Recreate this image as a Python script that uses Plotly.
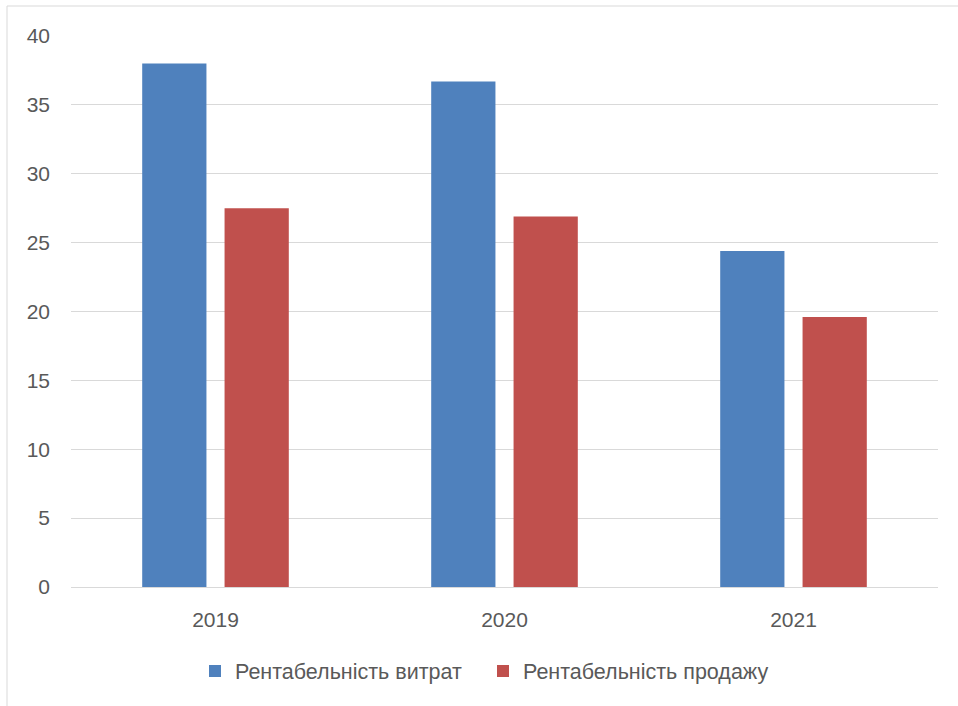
import plotly.graph_objects as go

years = ["2019", "2020", "2021"]
cost_profitability = [38.0, 36.7, 24.4]
sales_profitability = [27.5, 26.9, 19.6]
series_names = ["Рентабельність витрат", "Рентабельність продажу"]
y_ticks = [0, 5, 10, 15, 20, 25, 30, 35, 40]

W, H = 958, 706
L, R, T, B = 71, 20, 36, 119
pw, ph = W - L - R, H - T - B

def px_x(p):
    return (p - L) / pw

def px_y(p):
    return (H - B - p) / ph

fig = go.Figure()
fig.add_trace(go.Bar(x=years, y=cost_profitability, name=series_names[0],
                     marker=dict(color="#4f81bd", line=dict(width=0))))
fig.add_trace(go.Bar(x=years, y=sales_profitability, name=series_names[1],
                     marker=dict(color="#c0504d", line=dict(width=0))))

font = "Liberation Sans, Arial, sans-serif"
fig.update_layout(
    width=W, height=H,
    margin=dict(l=L, r=R, t=T, b=B),
    paper_bgcolor="white", plot_bgcolor="white",
    barmode="group", bargap=0.43, bargroupgap=0.22,
    font=dict(family=font, size=21, color="#595959"),
    showlegend=True,
    legend=dict(orientation="h", x=px_x(195), xanchor="left",
                y=px_y(671), yanchor="middle",
                font=dict(size=21.5, color="#595959"),
                itemwidth=30, entrywidth=243, entrywidthmode="pixels",
                traceorder="normal"),
    xaxis=dict(showgrid=False, showline=True, linecolor="#d9d9d9", linewidth=1,
               ticks="", ticklabelstandoff=14,
               tickfont=dict(size=21, color="#595959")),
    yaxis=dict(range=[0, 40], tickvals=y_ticks, showgrid=True,
               gridcolor="#d9d9d9", gridwidth=1, zeroline=False,
               showline=False, ticks="", ticklabelstandoff=20,
               tickfont=dict(size=21, color="#595959")),
    shapes=[
        dict(type="line", xref="paper", yref="paper",
             x0=px_x(7), x1=px_x(962), y0=px_y(6), y1=px_y(6),
             line=dict(color="#d9d9d9", width=1)),
        dict(type="line", xref="paper", yref="paper",
             x0=px_x(7), x1=px_x(7), y0=px_y(6), y1=px_y(710),
             line=dict(color="#d9d9d9", width=1)),
    ],
)

fig.write_html("out.html")
